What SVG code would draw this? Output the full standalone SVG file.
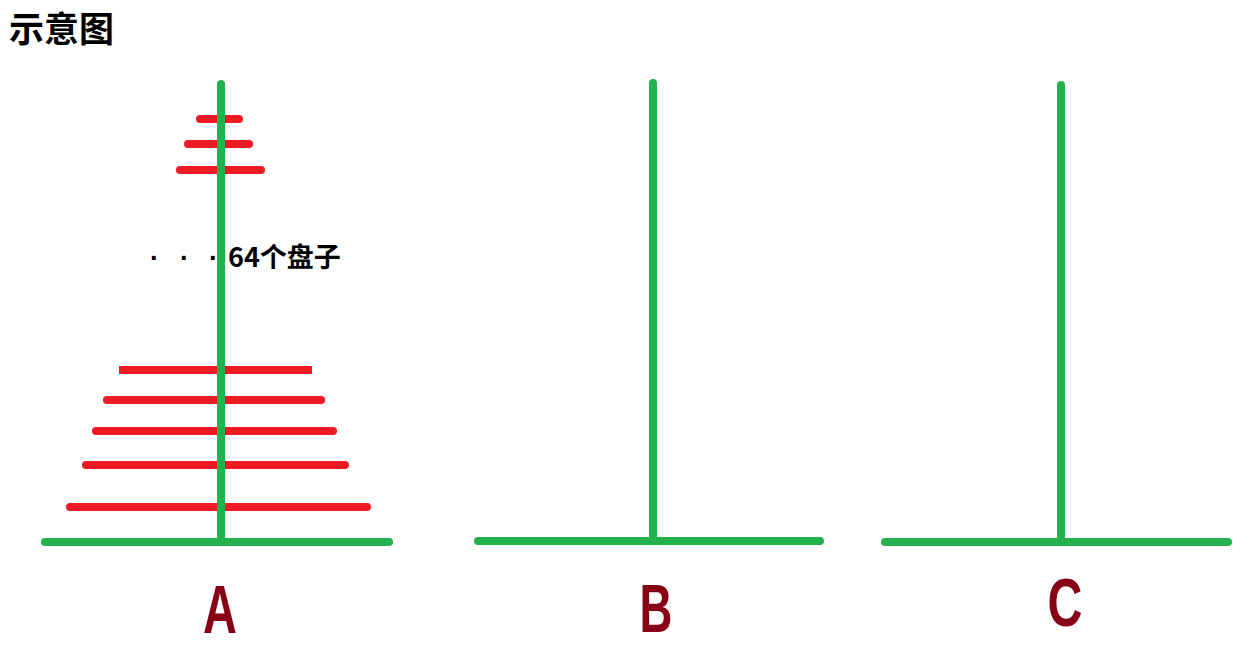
<svg xmlns="http://www.w3.org/2000/svg" width="1240" height="647" viewBox="0 0 1240 647">
<style>
.pole{stroke:#22b14c;stroke-width:8;stroke-linecap:round;fill:none}
.disk{stroke:#ed1c24;stroke-width:8;stroke-linecap:round;fill:none}
.lbl{font-family:"Liberation Sans",Arial,sans-serif;font-weight:bold;font-size:69px;fill:#880015;text-anchor:middle}
.cjk{font-family:"Noto Sans CJK SC","Noto Sans",sans-serif;font-weight:bold;fill:#000}
.dot{font-family:"Liberation Sans",Arial,sans-serif}
</style>
<rect width="1240" height="647" fill="#fff"/>
<text class="cjk" x="9" y="42" font-size="35">示意图</text>
<g id="peg-A">
<line class="pole" x1="45" y1="542" x2="389" y2="542"/>
<g id="disks">
<line class="disk" x1="200" y1="119" x2="239" y2="119"/>
<line class="disk" x1="188" y1="144" x2="249" y2="144"/>
<line class="disk" x1="180" y1="170" x2="261" y2="170"/>
<line class="disk" x1="119" y1="370" x2="312" y2="370" style="stroke-linecap:butt"/>
<line class="disk" x1="107" y1="400" x2="321" y2="400"/>
<line class="disk" x1="96" y1="431" x2="333" y2="431"/>
<line class="disk" x1="86" y1="465" x2="345" y2="465"/>
<line class="disk" x1="70" y1="507" x2="367" y2="507"/>
</g>
<line class="pole" x1="221" y1="84" x2="221" y2="540"/>
<text class="cjk" y="267" font-size="27"><tspan class="dot" x="150 180 209">···</tspan><tspan x="228">64个盘子</tspan></text>
<text class="lbl" transform="translate(220,633) scale(0.68,1)">A</text>
</g>
<g id="peg-B">
<line class="pole" x1="478" y1="541" x2="820" y2="541"/>
<line class="pole" x1="653" y1="83" x2="653" y2="540"/>
<text class="lbl" transform="translate(656,632) scale(0.66,1)">B</text>
</g>
<g id="peg-C">
<line class="pole" x1="885" y1="542" x2="1228" y2="542"/>
<line class="pole" x1="1061" y1="85" x2="1061" y2="541"/>
<text class="lbl" transform="translate(1065,626) scale(0.7,1)">C</text>
</g>
<g id="connectors"></g>
</svg>
